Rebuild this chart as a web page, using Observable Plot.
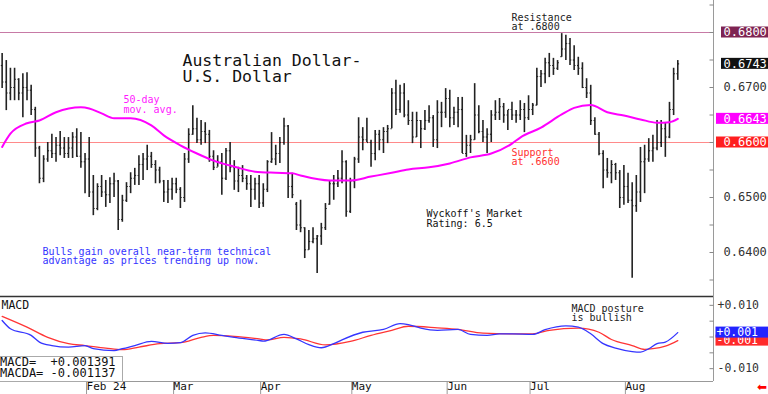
<!DOCTYPE html>
<html><head><meta charset="utf-8">
<script src="https://cdn.jsdelivr.net/npm/d3@7"></script>
<script src="https://cdn.jsdelivr.net/npm/@observablehq/plot@0.6"></script>
<style>
html,body{margin:0;padding:0;background:#fff;}
#wrap{position:relative;width:768px;height:394px;overflow:hidden;background:#fff;font-family:"DejaVu Sans Mono",monospace;}
#main{position:absolute;left:0;top:0;}
#macd{position:absolute;left:0;top:296px;}
#readout{position:absolute;left:0;top:356px;width:122px;height:24px;border:1px solid #aaa;border-left:none;background:#fff;font-size:12px;line-height:11px;white-space:pre;color:#111;}
#arrow{position:absolute;left:757px;top:380px;color:#ff0000;font-size:12px;font-family:"DejaVu Sans",sans-serif;}
</style></head><body>
<div id="wrap"><div id="main"></div><div id="macd"></div><div id="readout"></div><div id="arrow">⬅</div></div>
<script>
// ---- data (daily AUD/USD bars, Jan 4 – Aug 20 2024, trading-day index) ----
const high = [.6762,.6749,.6735,.6735,.6716,.6725,.6727,.6704,.6664,.6593,.6576,.6600,.6615,.6609,.6620,.6609,.6609,.6618,.6625,.6618,
.6580,.6609,.6540,.6525,.6540,.6531,.6536,.6544,.6531,.6504,.6527,.6545,.6553,.6576,.6580,.6595,.6582,.6567,.6555,.6531,
.6531,.6535,.6535,.6518,.6580,.6625,.6667,.6644,.6640,.6636,.6622,.6585,.6576,.6580,.6589,.6600,.6567,.6555,.6558,.6540,
.6540,.6535,.6540,.6525,.6567,.6618,.6595,.6609,.6644,.6631,.6544,.6491,.6495,.6445,.6440,.6445,.6431,.6453,.6489,.6531,
.6540,.6549,.6585,.6567,.6535,.6573,.6645,.6627,.6644,.6604,.6622,.6622,.6627,.6631,.6698,.6713,.6704,.6707,.6676,.6655,
.6655,.6640,.6658,.6667,.6649,.6676,.6673,.6698,.6695,.6664,.6682,.6682,.6613,.6613,.6707,.6667,.6640,.6625,.6658,.6676,
.6680,.6671,.6658,.6673,.6658,.6676,.6671,.6685,.6671,.6735,.6731,.6753,.6762,.6753,.6749,.6798,.6795,.6789,.6776,.6755,
.6745,.6716,.6704,.6645,.6618,.6585,.6571,.6567,.6562,.6549,.6558,.6544,.6527,.6540,.6591,.6595,.6607,.6613,.6640,.6640,
.6636,.6673,.6735,.6749];
const low = [.6698,.6658,.6676,.6676,.6676,.6645,.6676,.6649,.6573,.6525,.6527,.6564,.6571,.6564,.6576,.6571,.6571,.6571,.6573,.6553,
.6507,.6500,.6467,.6476,.6500,.6482,.6489,.6500,.6440,.6455,.6491,.6507,.6522,.6522,.6531,.6549,.6553,.6525,.6525,.6491,
.6489,.6495,.6507,.6480,.6491,.6562,.6613,.6598,.6595,.6598,.6564,.6549,.6555,.6504,.6531,.6545,.6513,.6509,.6527,.6513,
.6482,.6495,.6480,.6482,.6509,.6562,.6558,.6562,.6595,.6498,.6498,.6440,.6436,.6389,.6404,.6416,.6362,.6413,.6440,.6486,
.6495,.6518,.6525,.6464,.6471,.6516,.6562,.6585,.6600,.6555,.6567,.6585,.6580,.6598,.6625,.6649,.6653,.6645,.6631,.6598,
.6609,.6589,.6622,.6635,.6591,.6589,.6627,.6644,.6627,.6631,.6627,.6580,.6573,.6580,.6604,.6616,.6600,.6580,.6600,.6640,
.6640,.6635,.6622,.6640,.6635,.6640,.6618,.6640,.6649,.6667,.6700,.6707,.6718,.6722,.6731,.6755,.6749,.6740,.6731,.6722,
.6698,.6680,.6631,.6613,.6576,.6516,.6535,.6525,.6531,.6480,.6486,.6489,.6353,.6473,.6491,.6507,.6564,.6564,.6585,.6591,
.6573,.6607,.6649,.6713];
const open = [.6740,.6710,.6690,.6700,.6715,.6690,.6700,.6695,.6660,.6590,.6535,.6570,.6585,.6580,.6595,.6590,.6580,.6590,.6610,.6575,
.6565,.6570,.6510,.6480,.6520,.6510,.6505,.6525,.6530,.6460,.6495,.6520,.6535,.6540,.6560,.6570,.6575,.6560,.6550,.6530,
.6510,.6515,.6525,.6515,.6500,.6570,.6615,.6625,.6605,.6620,.6615,.6575,.6555,.6565,.6535,.6585,.6555,.6530,.6540,.6535,
.6525,.6515,.6525,.6490,.6515,.6565,.6570,.6580,.6600,.6630,.6520,.6488,.6450,.6445,.6405,.6420,.6425,.6430,.6445,.6488,
.6525,.6525,.6535,.6565,.6475,.6530,.6570,.6610,.6605,.6600,.6580,.6615,.6605,.6620,.6625,.6690,.6660,.6690,.6650,.6640,
.6610,.6640,.6625,.6640,.6645,.6605,.6655,.6655,.6680,.6645,.6655,.6660,.6580,.6595,.6605,.6650,.6620,.6610,.6615,.6650,
.6655,.6665,.6650,.6660,.6650,.6650,.6660,.6645,.6660,.6668,.6720,.6725,.6745,.6740,.6735,.6756,.6770,.6780,.6750,.6740,
.6735,.6700,.6690,.6640,.6615,.6580,.6550,.6545,.6560,.6545,.6500,.6520,.6495,.6485,.6510,.6565,.6570,.6585,.6590,.6600,
.6625,.6610,.6660,.6725];
const close = [.6710,.6690,.6700,.6715,.6690,.6700,.6695,.6660,.6590,.6535,.6570,.6585,.6580,.6595,.6590,.6580,.6590,.6610,.6575,.6565,
.6570,.6510,.6480,.6520,.6510,.6505,.6525,.6530,.6460,.6495,.6520,.6535,.6540,.6560,.6570,.6575,.6560,.6550,.6530,.6510,
.6515,.6525,.6515,.6500,.6570,.6615,.6625,.6605,.6620,.6615,.6575,.6555,.6565,.6535,.6585,.6555,.6530,.6540,.6535,.6525,
.6515,.6525,.6490,.6515,.6565,.6570,.6580,.6600,.6630,.6520,.6505,.6450,.6445,.6405,.6420,.6425,.6430,.6445,.6480,.6525,
.6525,.6535,.6565,.6475,.6530,.6570,.6610,.6605,.6600,.6580,.6615,.6605,.6620,.6625,.6690,.6660,.6690,.6650,.6640,.6610,
.6640,.6625,.6640,.6645,.6605,.6655,.6655,.6680,.6645,.6655,.6660,.6580,.6595,.6605,.6650,.6620,.6610,.6615,.6650,.6655,
.6665,.6650,.6660,.6650,.6650,.6660,.6645,.6660,.6668,.6720,.6725,.6745,.6740,.6735,.6745,.6770,.6780,.6750,.6740,.6735,
.6700,.6690,.6640,.6615,.6580,.6550,.6545,.6560,.6545,.6500,.6520,.6495,.6485,.6510,.6565,.6570,.6585,.6590,.6600,.6625,
.6610,.6660,.6725,.6743];

// 50-day moving average (trading-day index, value)
const maIdx = [0,2,6,9,13,19,21,24,27,31,36,39,43,47,51,56,61,66,70,72,79,84,89,94,98,103,108,113,118,123,125,130,135,138,142,146,150,154,158,161,163];
const maVal = [.6592,.6616,.6635,.6640,.6655,.6664,.6662,.6653,.6644,.6644,.6631,.6613,.6595,.6580,.6567,.6556,.6547,.6545,.6544,.6540,.6531,.6531,.6538,.6545,.6551,.6555,.6562,.6573,.6580,.6598,.6609,.6627,.6651,.6663,.6668,.6655,.6649,.6642,.6636,.6637,.6643];

// MACD (blue) and MACD average (red)
const macdIdx = [0,2,7,9,12,16,20,22,27,29,32,36,40,43,46,49,53,56,62,63,68,71,74,77,80,82,87,92,96,98,101,105,110,113,117,120,123,128,131,136,139,142,145,148,152,154,156,158,160,163];
const macdVal = [.0052,.0026,.0005,-.0016,-.0027,-.0032,-.0027,-.0037,-.0043,-.0037,-.0027,-.0014,-.0020,-.0018,.0005,.0013,.0005,-.0001,-.0011,-.0013,.0008,-.0006,-.0024,-.0034,-.0021,-.0009,.0015,.0024,.0042,.0039,.0028,.0021,.0024,.0008,.0005,.0010,.0010,.0008,.0023,.0035,.0031,.0010,-.0021,-.0035,-.0046,-.0048,-.0037,-.0021,-.0016,.001391];
const macdaIdx = [0,6,11,16,20,25,29,33,38,43,48,51,56,62,64,68,72,78,84,89,94,98,105,110,116,123,128,132,139,144,147,152,155,157,160,163];
const macdaVal = [.0065,.0031,-.0001,-.0021,-.0027,-.0035,-.0040,-.0032,-.0021,-.0018,-.0001,.0005,.0002,-.0006,-.0009,-.0001,-.0006,-.0025,-.0014,.0005,.0021,.0034,.0029,.0024,.0012,.0010,.0010,.0021,.0028,.0015,-.0008,-.0027,-.0039,-.0037,-.0029,-.001137];

// month axis
const monthLabels = ["Feb 24","Mar","Apr","May","Jun","Jul","Aug"];
const monthIdx = [20,41,62,84,107,127,150];

// price axis ticks / labels
const priceLabels = [0.64, 0.65, 0.67];
const priceTicks = [0.635,0.64,0.645,0.65,0.655,0.66,0.665,0.67,0.675,0.68,0.685];
const macdLabels = [0.01, -0.01];
const macdTicks = [-0.01,-0.005,0,0.005,0.01];
const resistance = 0.68, support = 0.66;

// ---- layout ----
const FONT = '"DejaVu Sans Mono", monospace';
const PX = 4.145, X0 = 1.64;           // pixels per trading day, first bar offset
const xMin = -X0 / PX, xMax = (713 - X0) / PX;
const pxX = p => xMin + p / PX;
const yMain = [0.632, 0.68582];
const yMacd = [-0.014051, 0.012788];
const mainUnit = 296 / (yMain[1] - yMain[0]);
const macdUnit = 85 / (yMacd[1] - yMacd[0]);

const bars = high.map((h, i) => ({i, high: h, low: low[i], open: open[i], close: close[i]}));
const maData = maIdx.map((i, k) => ({i, v: maVal[k]}));
const mData = macdIdx.map((i, k) => ({i, v: macdVal[k]}));
const aData = macdaIdx.map((i, k) => ({i, v: macdaVal[k]}));

const mainBoxes = [
  {v: resistance, label: "0.6800", fill: "#7e2452", left: 721},
  {v: close[close.length - 1], label: close[close.length - 1].toFixed(4), fill: "#111111", left: 721},
  {v: maVal[maVal.length - 1], label: maVal[maVal.length - 1].toFixed(4), fill: "#ff00ff", left: 716},
  {v: support, label: "0.6600", fill: "#ff1f1f", left: 716}
];
const lastMacd = macdVal[macdVal.length - 1], lastMacda = macdaVal[macdaVal.length - 1];
const fmt3 = d => (d > 0 ? "+" : d < 0 ? "-" : "") + Math.abs(d).toFixed(3);

const note = (txt, dx, dy, opts = {}) => Plot.text([txt], {
  text: d => d, frameAnchor: "top-left", textAnchor: "start", lineAnchor: "top",
  dx, dy, fontSize: 10, lineHeight: 1, fill: "#222", ...opts
});
const boxMarks = (b, unit, h) => [
  Plot.rect([b], {x1: () => pxX(b.left), x2: () => pxX(768), y1: () => b.v - h / unit, y2: () => b.v + h / unit, fill: b.fill}),
  Plot.text([b], {x: () => xMax, y: () => b.v, dx: b.dx ?? 10, text: d => d.label, textAnchor: "start", fill: "white", fontSize: b.fs ?? 12})
];

const mainChart = Plot.plot({
  width: 768, height: 297,
  marginTop: 0, marginRight: 55, marginBottom: 1, marginLeft: 0,
  style: {fontFamily: FONT, background: "transparent", overflow: "visible"},
  x: {domain: [xMin, xMax], axis: null},
  y: {domain: yMain, axis: null},
  marks: [
    Plot.ruleY([resistance], {stroke: "#c77aa6", strokeWidth: 1.2}),
    Plot.ruleY([support], {stroke: "#ff8a8a", strokeWidth: 1.2}),
    Plot.ruleX(bars, {x: "i", y1: "low", y2: "high", stroke: "#222", strokeWidth: 1.6}),
    Plot.link(bars, {x1: d => d.i - 0.32, x2: d => d.i, y1: "open", y2: "open", stroke: "#222", strokeWidth: 1.2}),
    Plot.link(bars, {x1: d => d.i, x2: d => d.i + 0.32, y1: "close", y2: "close", stroke: "#222", strokeWidth: 1.2}),
    Plot.line(maData, {x: "i", y: "v", stroke: "#ff00ff", strokeWidth: 2, curve: "monotone-x"}),
    Plot.ruleY([yMain[0]], {stroke: "#333", strokeWidth: 1.4}),
    Plot.ruleX([xMax], {stroke: "#9a9a9a"}),
    Plot.link(priceTicks, {x1: () => xMax - 4 / PX, x2: () => xMax, y1: d => d, y2: d => d, stroke: "#888"}),
    Plot.axisY(priceLabels, {anchor: "right", tickSize: 0, tickPadding: 10, tickFormat: d => d.toFixed(4), fontSize: 12, fill: "#333", label: null}),
    ...mainBoxes.flatMap(b => boxMarks(b, mainUnit, 5.5)),
    note("Australian Dollar-\nU.S. Dollar", 182, 54, {fontSize: 16.5, lineHeight: 0.97, fill: "#111"}),
    note("50-day\nmov. avg.", 123, 95.5, {fill: "#ff1aff"}),
    note("Resistance\nat .6800", 511, 12.9),
    note("Support\nat .6600", 511, 147.9, {fill: "#ff3030"}),
    note("Wyckoff's Market\nRating: 6.5", 426, 209.6, {fill: "#111"}),
    note("Bulls gain overall near-term technical\nadvantage as prices trending up now.", 42, 246.9, {fill: "#3434ff"})
  ]
});
document.getElementById("main").append(mainChart);

const macdBoxes = [
  {v: lastMacda, label: fmt3(lastMacda), fill: "#ff2a2a", left: 715.5, dx: 3, fs: 11.5},
  {v: lastMacd, label: fmt3(lastMacd), fill: "#2323ff", left: 715.5, dx: 3, fs: 11.5}
];

const macdChart = Plot.plot({
  width: 768, height: 98,
  marginTop: 0, marginRight: 55, marginBottom: 13, marginLeft: 0,
  style: {fontFamily: FONT, background: "transparent", overflow: "visible"},
  x: {domain: [xMin, xMax], axis: null},
  y: {domain: yMacd, axis: null},
  marks: [
    Plot.line(aData, {x: "i", y: "v", stroke: "#ff3535", strokeWidth: 1.3, curve: "monotone-x"}),
    Plot.line(mData, {x: "i", y: "v", stroke: "#3535ff", strokeWidth: 1.3, curve: "monotone-x"}),
    Plot.ruleY([yMacd[0]], {stroke: "#999"}),
    Plot.ruleX([xMax], {y1: yMacd[0], y2: yMacd[1], stroke: "#9a9a9a"}),
    Plot.link(macdTicks, {x1: () => xMax - 4 / PX, x2: () => xMax, y1: d => d, y2: d => d, stroke: "#888"}),
    Plot.axisY(macdLabels, {anchor: "right", tickSize: 0, tickPadding: 4, tickFormat: fmt3, fontSize: 11.5, fill: "#333", label: null}),
    ...macdBoxes.flatMap(b => boxMarks(b, macdUnit, 5.5)),
    Plot.axisX(monthIdx, {anchor: "bottom", tickSize: 13, tickPadding: -12.5, tickFormat: d => monthLabels[monthIdx.indexOf(d)], textAnchor: "start", dx: 1.5, fontSize: 11, stroke: "#999", fill: "#111", label: null}),
    note("MACD", 1, 4.1, {fontSize: 11.5, fill: "#111"}),
    note("MACD posture\nis bullish", 571, 7.9)
  ]
});
document.getElementById("macd").append(macdChart);

document.getElementById("readout").textContent =
  "MACD=  " + (lastMacd >= 0 ? "+" : "-") + Math.abs(lastMacd).toFixed(6) + "\n" +
  "MACDA= " + (lastMacda >= 0 ? "+" : "-") + Math.abs(lastMacda).toFixed(6);
</script>
</body></html>
